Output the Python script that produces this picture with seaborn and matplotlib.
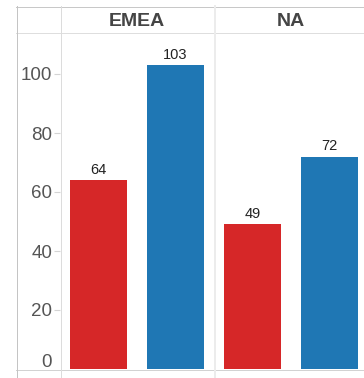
import matplotlib
matplotlib.use("Agg")
import matplotlib.pyplot as plt
from matplotlib.lines import Line2D
from matplotlib.transforms import ScaledTranslation
import seaborn as sns
import pandas as pd

plt.rcParams['font.family'] = ['Liberation Sans', 'DejaVu Sans']

regions = ["EMEA", "NA"]
series = ["Series 1", "Series 2"]
values_s1 = [64, 49]
values_s2 = [103, 72]
tick_values = [0, 20, 40, 60, 80, 100]
colors = ["#d62728", "#1f77b4"]

df = pd.DataFrame({
    "region": regions + regions,
    "series": [series[0]] * len(regions) + [series[1]] * len(regions),
    "value": values_s1 + values_s2,
})

W, H = 364, 378
fig = plt.figure(figsize=(W / 100, H / 100), dpi=100)
ax = fig.add_axes([60 / W, 9 / H, 308 / W, 337 / H])

sns.barplot(data=df, x="region", y="value", hue="series", hue_order=series,
            order=regions, palette=colors, width=1.0, gap=0.25,
            saturation=1, legend=False, ax=ax)

ax.set_xlim(-0.5, 1.5)
ax.set_ylim(0, 337 / 2.95)
for s in ax.spines.values():
    s.set_visible(False)
ax.set_xlabel("")
ax.set_ylabel("")

# header labels on top
ax.tick_params(axis="x", top=True, labeltop=True, bottom=False, labelbottom=False,
               length=0, pad=1.5)
for lbl in ax.get_xticklabels():
    lbl.set_fontsize(14)
    lbl.set_fontweight("bold")
    lbl.set_color("#454545")

# y ticks (0 label placed separately, Tableau style)
ax.set_yticks(tick_values[1:])
ax.set_yticklabels([str(v) for v in tick_values[1:]])
ax.tick_params(axis="y", length=4.5, width=0.8, color="#d4d4d4", pad=1,
               labelsize=13.5, labelcolor="#555555")
ax.text(0, tick_values[0], str(tick_values[0]), ha="right", va="baseline",
        fontsize=13.5, color="#555555",
        transform=ax.get_yaxis_transform() + ScaledTranslation(-0.085, 0.02, fig.dpi_scale_trans))

for cont in ax.containers:
    ax.bar_label(cont, padding=2.5, fontsize=10.5, color="#222222")

def hline(y, x0, x1, color, lw=1.0):
    fig.add_artist(Line2D([x0 / W, x1 / W], [1 - y / H, 1 - y / H],
                          transform=fig.transFigure, color=color, lw=lw * 0.72))

def vline(x, y0, y1, color, lw=1.0):
    fig.add_artist(Line2D([x / W, x / W], [1 - y0 / H, 1 - y1 / H],
                          transform=fig.transFigure, color=color, lw=lw * 0.72))

hline(6.5, 16, W, "#c8c8c8")
hline(32.5, 16, W, "#dedede")
hline(369.5, 16, W, "#d2d2d2")
vline(16.5, 6, H, "#c4c4c4")
vline(60.5, 6, H, "#dcdcdc")
vline(214.5, 6, H, "#ececec", lw=2)

fig.savefig("out.png", dpi=100)
